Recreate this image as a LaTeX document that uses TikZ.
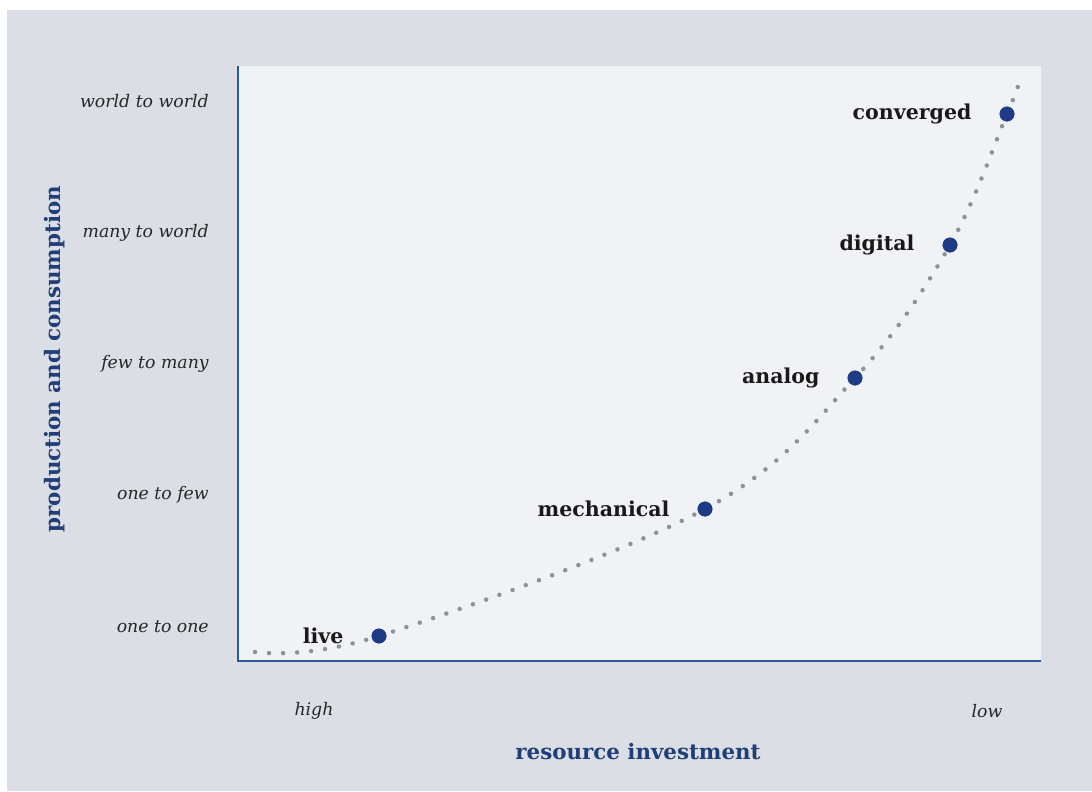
\documentclass[tikz,border=0pt]{standalone}
\usepackage{fontspec}
\setmainfont{DejaVu Serif}
\usetikzlibrary{positioning}
\definecolor{pagegray}{HTML}{DCDEE6}
\definecolor{panelgray}{HTML}{F0F2F6}
\definecolor{axisblue}{HTML}{2C5AA0}
\definecolor{dotblue}{HTML}{1E3C85}
\definecolor{titleblue}{HTML}{1F3F78}
\definecolor{curvegray}{HTML}{8A9398}
\tikzset{
	era/.style={circle, fill=dotblue, inner sep=0pt, minimum size=0.37cm}, % the big dots on the curve
	eralabel/.style={font=\bfseries\fontsize{14.6}{16}\selectfont, text=black!90, inner sep=2pt}, % names of the eras
	tick/.style={font=\itshape\fontsize{12.3}{14}\selectfont, text=black!85, anchor=east, inner sep=0pt}, % values on the axes
	axistitle/.style={font=\bfseries\fontsize{15.2}{17}\selectfont, text=titleblue}, % axis names
	axisline/.style={draw=axisblue, line width=1.5pt},
	growth/.style={draw=curvegray, line width=3.2pt, line cap=round, dash pattern=on 0pt off 10pt}, % the dotted curve
}

\begin{document}
\begin{tikzpicture}[x=0.025cm, y=-0.025cm]
		\useasboundingbox (0,0) rectangle (1092,791);
		\fill[white] (0,0) rectangle (1092,791);
		\fill[pagegray] (7,10) rectangle (1092,791);
		\fill[panelgray] (238,66) rectangle (1041,661);

		\coordinate (top) at (238,66);
		\coordinate (origin) at (238,661);
		\coordinate (right) at (1041,661);
		\draw[axisline] (top) -- (origin) -- (right);

		% values on the vertical axis
		\node[tick] (w2w) at (209,101) {world to world};
		\node[tick] (m2w) at (209,233) {many to world};
		\node[tick] (f2m) at (209,364) {few to many};
		\node[tick] (o2f) at (209,495) {one to few};
		\node[tick] (o2o) at (209,627) {one to one};

		% values on the horizontal axis
		\node[tick, anchor=center] (high) at (314,711) {high};
		\node[tick, anchor=center] (low) at (987,711) {low};

		\node[axistitle] (xtitle) at (638,752) {resource investment};
		\node[axistitle, rotate=90] (ytitle) at (55,359) {production and consumption};

		% the eras
		\node[era] (live) at (379,636) {};
		\node[era] (mech) at (705,509) {};
		\node[era] (analog) at (855,378) {};
		\node[era] (digital) at (950,245) {};
		\node[era] (conv) at (1007,114) {};
		\coordinate (start) at (255,652);
		\coordinate (finish) at (1018,86);

		\draw[growth] plot[smooth, tension=0.6] coordinates {(start) (live.center) (mech.center) (analog.center) (digital.center) (conv.center) (finish)};
		\foreach \x in {live,mech,analog,digital,conv}
			\node[era] at (\x) {};

		\node[eralabel, left=0.62cm of live] (livetext) {live};
		\node[eralabel, left=0.62cm of mech] (mechtext) {mechanical};
		\node[eralabel, left=0.62cm of analog] (analogtext) {analog};
		\node[eralabel, left=0.62cm of digital] (digitaltext) {digital};
		\node[eralabel, left=0.62cm of conv] (convtext) {converged};

	\end{tikzpicture}
\end{document}
